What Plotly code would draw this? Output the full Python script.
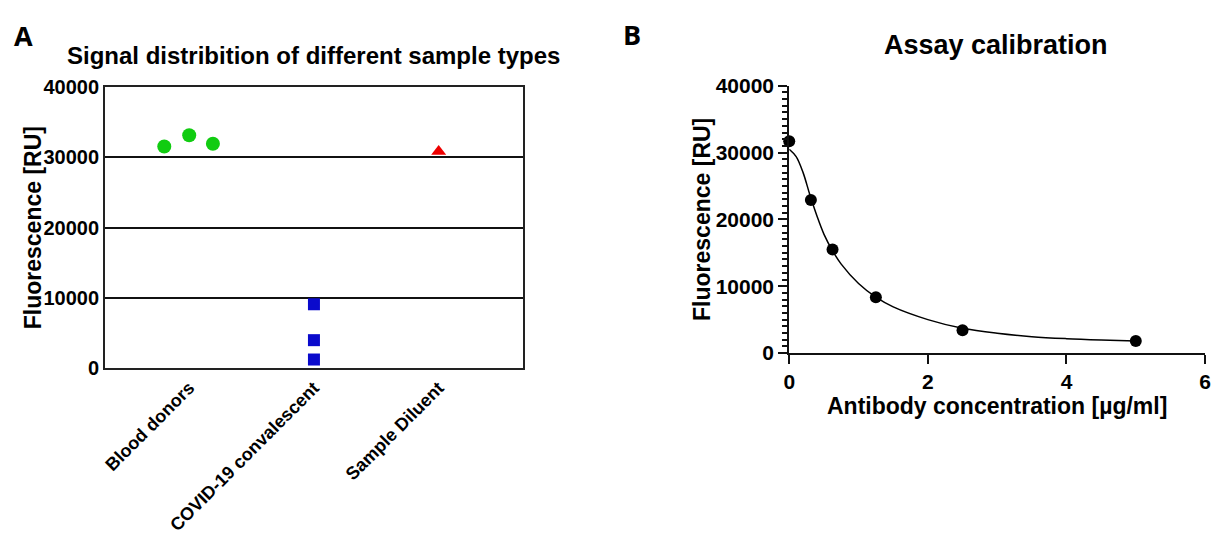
import plotly.graph_objects as go

# ---------- Panel A data ----------
categories = ["Blood donors", "COVID-19 convalescent", "Sample Diluent"]
donor_x = [-0.2, 0.0, 0.19]
donor_y = [31500, 33100, 31900]
covid_x = [1.0, 1.0, 1.0]
covid_y = [9100, 4000, 1250]
diluent_x = [2.0]
diluent_y = [30800]
a_yticks = [0, 10000, 20000, 30000, 40000]

# ---------- Panel B data ----------
conc = [0, 0.3125, 0.625, 1.25, 2.5, 5]
signal = [31700, 22900, 15500, 8350, 3400, 1800]
fit_x = [0, 0.1, 0.2, 0.3, 0.4, 0.5, 0.625, 0.75, 1.0, 1.25, 1.5, 2.0, 2.5, 3.0, 3.5, 4.0, 4.5, 5.0]
fit_y = [30500, 29400, 27000, 23600, 20500, 17800, 15300, 13300, 10400, 8350, 6900, 5000, 3700, 2950, 2450, 2150, 1950, 1800]
b_xticks = [0, 2, 4, 6]
b_yticks = [0, 10000, 20000, 30000, 40000]

FONT = "Arial, Liberation Sans, sans-serif"

fig = go.Figure()

fig.add_trace(go.Scatter(x=donor_x, y=donor_y, mode="markers",
                         marker=dict(symbol="circle", size=14, color="#11cc11"),
                         xaxis="x", yaxis="y", showlegend=False, cliponaxis=False))
fig.add_trace(go.Scatter(x=covid_x, y=covid_y, mode="markers",
                         marker=dict(symbol="square", size=12, color="#0a0acc"),
                         xaxis="x", yaxis="y", showlegend=False, cliponaxis=False))
fig.add_trace(go.Scatter(x=diluent_x, y=diluent_y, mode="markers",
                         marker=dict(symbol="triangle-up", size=13, color="#ee0000"),
                         xaxis="x", yaxis="y", showlegend=False, cliponaxis=False))

fig.add_trace(go.Scatter(x=fit_x, y=fit_y, mode="lines",
                         line=dict(color="black", width=1.5, shape="spline", smoothing=1.0),
                         xaxis="x2", yaxis="y2", showlegend=False, cliponaxis=False))
fig.add_trace(go.Scatter(x=conc, y=signal, mode="markers",
                         marker=dict(symbol="circle", size=12, color="black"),
                         xaxis="x2", yaxis="y2", showlegend=False, cliponaxis=False))

W, H = 1222, 546
def px(x):
    return x / W
def py(y):
    return 1 - y / H

fig.update_layout(
    width=W, height=H,
    margin=dict(l=0, r=0, t=0, b=0),
    paper_bgcolor="white", plot_bgcolor="white",
    font=dict(family=FONT, color="black"),
    xaxis=dict(domain=[px(100), px(522)], range=[-0.675, 2.675],
               tickvals=[0, 1, 2], ticktext=categories, tickangle=-45,
               tickfont=dict(size=18, family=FONT, weight="bold"),
               showgrid=False, zeroline=False, ticks="",
               showline=True, mirror=True, linecolor="#222", linewidth=2,
               anchor="y", fixedrange=True),
    yaxis=dict(domain=[py(372), py(78)], range=[0, 40000],
               tickvals=a_yticks, ticktext=[str(v) for v in a_yticks],
               tickfont=dict(size=20, family=FONT, weight="bold"),
               showgrid=True, gridcolor="#111", gridwidth=2, zeroline=False,
               ticks="", showline=True, mirror=True, linecolor="#222", linewidth=2,
               anchor="x", fixedrange=True),
    xaxis2=dict(domain=[px(791), px(1211)], range=[0, 6],
                tickvals=b_xticks, ticktext=[str(v) for v in b_xticks],
                tickfont=dict(size=21, family=FONT, weight="bold"),
                showgrid=False, zeroline=False, ticks="outside", ticklen=9, tickwidth=2,
                tickcolor="#111",
                showline=True, linecolor="#111", linewidth=2,
                title=dict(text="Antibody concentration [µg/ml]",
                           font=dict(size=23, family=FONT, weight="bold"), standoff=4),
                anchor="y2", fixedrange=True),
    yaxis2=dict(domain=[py(356), py(77)], range=[0, 40000],
                tickvals=b_yticks, ticktext=[str(v) for v in b_yticks],
                tickfont=dict(size=21, family=FONT, weight="bold"),
                showgrid=False, zeroline=False, ticks="outside", ticklen=9, tickwidth=2,
                tickcolor="#111",
                minor=dict(dtick=1000, ticks="outside", ticklen=5, tickwidth=1.5, tickcolor="#111",
                           showgrid=False),
                showline=True, linecolor="#111", linewidth=2,
                anchor="x2", fixedrange=True),
    annotations=[
        dict(text="A", x=px(6), y=py(25), xref="paper", yref="paper", xanchor="left", yanchor="middle",
             showarrow=False, font=dict(size=27, family="Open Sans, Liberation Sans", weight="bold")),
        dict(text="B", x=px(621), y=py(23), xref="paper", yref="paper", xanchor="left", yanchor="middle",
             showarrow=False, font=dict(size=27, family="Open Sans, Liberation Sans", weight="bold")),
        dict(text="Signal distribition of different sample types", x=px(311), y=py(45),
             xref="paper", yref="paper", xanchor="center", yanchor="middle", showarrow=False,
             font=dict(size=24, family=FONT, weight="bold")),
        dict(text="Assay calibration", x=px(1000), y=py(34),
             xref="paper", yref="paper", xanchor="center", yanchor="middle", showarrow=False,
             font=dict(size=27, family=FONT, weight="bold")),
        dict(text="Fluorescence [RU]", x=px(27), y=py(225), textangle=-90,
             xref="paper", yref="paper", xanchor="center", yanchor="middle", showarrow=False,
             font=dict(size=23, family=FONT, weight="bold")),
        dict(text="Fluorescence [RU]", x=px(703), y=py(217), textangle=-90,
             xref="paper", yref="paper", xanchor="center", yanchor="middle", showarrow=False,
             font=dict(size=23, family=FONT, weight="bold")),
    ],
)

fig.write_html("out.html", config={"displayModeBar": False},
               post_script="document.body.style.margin='0px';")
